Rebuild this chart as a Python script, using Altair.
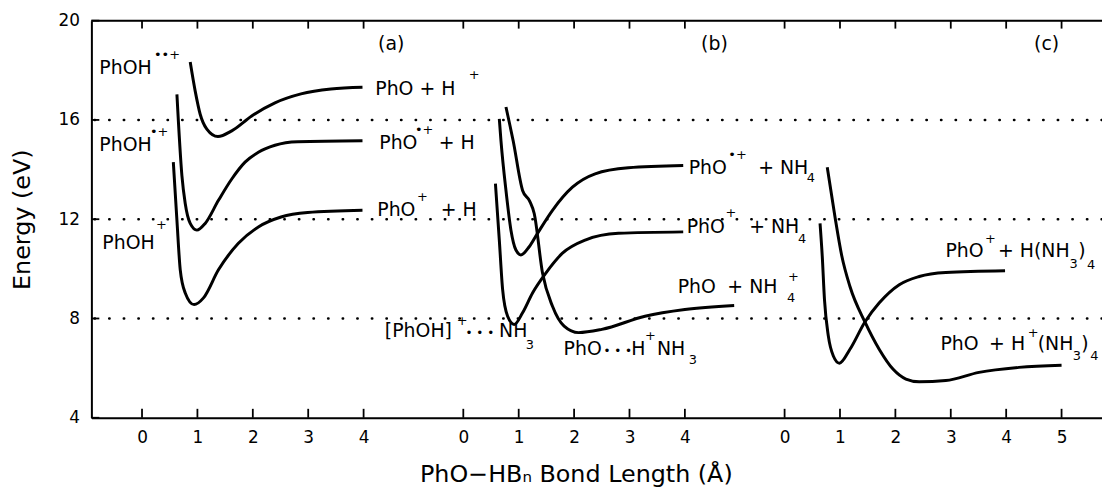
import altair as alt
import pandas as pd

FONT = "DejaVu Sans"

# ---- axis / layout data ----
panel_offset = {"a": 0.0, "b": 5.8, "c": 11.6}
a_ticks = [0, 1, 2, 3, 4]
b_ticks = [0, 1, 2, 3, 4]
c_ticks = [0, 1, 2, 3, 4, 5]
y_ticks = [4, 8, 12, 16, 20]
dotted_levels = [8, 12, 16]
x_domain = [-0.914, 17.33]
y_domain = [4, 20]

# ---- curves (local bond length in Angstrom, energy in eV) ----
# panel (a)
a1_x = [0.87, 0.96, 1.05, 1.17, 1.37, 1.62, 1.98, 2.40, 2.87, 3.41, 3.98]
a1_y = [18.33, 17.16, 16.23, 15.63, 15.33, 15.56, 16.16, 16.69, 17.05, 17.25, 17.32]
a2_x = [0.63, 0.72, 0.78, 0.87, 0.99, 1.14, 1.38, 1.62, 1.86, 2.10, 2.40, 2.81, 3.98]
a2_y = [17.03, 13.76, 12.63, 11.83, 11.56, 11.83, 12.76, 13.62, 14.30, 14.70, 14.98, 15.12, 15.16]
a3_x = [0.565, 0.63, 0.69, 0.78, 0.94, 1.11, 1.38, 1.74, 2.10, 2.51, 2.99, 3.98]
a3_y = [14.30, 11.96, 9.96, 9.03, 8.56, 8.83, 9.96, 11.03, 11.69, 12.09, 12.27, 12.36]
# panel (b)
bA_x = [0.65, 0.68, 0.77, 0.86, 0.95, 1.04, 1.19, 1.34, 1.61, 1.97, 2.38, 2.98, 3.97]
bA_y = [16.04, 15.16, 13.16, 11.56, 10.76, 10.56, 10.89, 11.43, 12.36, 13.29, 13.83, 14.07, 14.16]
bB_x = [0.77, 0.90, 1.07, 1.20, 1.28, 1.43, 1.61, 1.82, 2.08, 2.50, 3.28, 4.00, 4.89]
bB_y = [16.52, 15.16, 13.16, 12.72, 12.23, 9.83, 8.49, 7.69, 7.43, 7.56, 8.09, 8.36, 8.52]
bC_x = [0.58, 0.65, 0.71, 0.80, 0.92, 1.07, 1.25, 1.49, 1.79, 2.20, 2.80, 3.97]
bC_y = [13.43, 11.16, 9.16, 8.09, 7.76, 8.23, 9.03, 9.83, 10.63, 11.16, 11.43, 11.49]
# panel (c)
cA_x = [0.77, 0.91, 1.03, 1.18, 1.45, 1.71, 1.96, 2.19, 2.43, 2.91, 3.51, 4.23, 5.00]
cA_y = [14.09, 12.09, 10.55, 9.29, 7.86, 6.75, 5.95, 5.56, 5.45, 5.50, 5.83, 6.03, 6.12]
cB_x = [0.64, 0.68, 0.72, 0.79, 0.88, 0.99, 1.18, 1.45, 1.71, 2.07, 2.43, 2.91, 3.98]
cB_y = [11.83, 10.50, 8.76, 7.29, 6.49, 6.20, 6.76, 7.86, 8.63, 9.36, 9.69, 9.85, 9.92]

curves = [
    ("a1", "a", a1_x, a1_y), ("a2", "a", a2_x, a2_y), ("a3", "a", a3_x, a3_y),
    ("bA", "b", bA_x, bA_y), ("bB", "b", bB_x, bB_y), ("bC", "b", bC_x, bC_y),
    ("cA", "c", cA_x, cA_y), ("cB", "c", cB_x, cB_y),
]

# ---- text labels: panel, local x, y, text, font size ----
label_rows = [
    # panel (a)
    ("a", -0.771, 18.08, "PhOH", 19), ("a", 0.215, 18.6, "••+", 13),
    ("a", -0.771, 15.0, "PhOH", 19), ("a", 0.143, 15.52, "•+", 13),
    ("a", -0.717, 11.04, "PhOH", 19), ("a", 0.251, 11.76, "+", 13),
    ("a", 4.211, 17.24, "PhO  +  H", 19), ("a", 5.90, 17.8, "+", 13),
    ("a", 4.283, 15.08, "PhO", 19), ("a", 4.928, 15.6, "•+", 13), ("a", 5.358, 15.08, "+ H", 19),
    ("a", 4.247, 12.36, "PhO", 19), ("a", 4.964, 12.88, "+", 13), ("a", 5.394, 12.36, "+ H", 19),
    # panel (b)
    ("b", 4.068, 14.08, "PhO", 19), ("b", 4.785, 14.6, "•+", 13),
    ("b", 5.323, 14.08, "+ NH", 19), ("b", 6.20, 13.64, "4", 13),
    ("b", 4.032, 11.68, "PhO", 19), ("b", 4.731, 12.24, "+", 13),
    ("b", 5.161, 11.68, "+ NH", 19), ("b", 6.04, 11.2, "4", 13),
    ("b", 3.871, 9.28, "PhO", 19), ("b", 4.767, 9.28, "+  NH", 19),
    ("b", 5.86, 9.68, "+", 13), ("b", 5.842, 8.84, "4", 13),
    ("b", -1.416, 7.48, "[PhOH]", 19), ("b", -0.12, 7.88, "+", 13),
    ("b", 0.04, 7.40, "• • •", 12), ("b", 0.645, 7.48, "NH", 19), ("b", 1.129, 6.92, "3", 13),
    ("b", 1.81, 6.76, "PhO", 19), ("b", 2.53, 6.70, "• • •", 12),
    ("b", 3.03, 6.76, "H", 19), ("b", 3.28, 7.28, "+", 13),
    ("b", 3.495, 6.76, "NH", 19), ("b", 4.068, 6.32, "3", 13),
    # panel (c)
    ("c", 2.903, 10.72, "PhO", 19), ("c", 3.62, 11.2, "+", 13),
    ("c", 3.853, 10.72, "+  H(NH", 19), ("c", 5.143, 10.2, "3", 13),
    ("c", 5.30, 10.72, ")", 19), ("c", 5.46, 10.16, "4", 13),
    ("c", 2.814, 6.96, "PhO", 19), ("c", 3.692, 6.96, "+ H", 19), ("c", 4.39, 7.4, "+", 13),
    ("c", 4.57, 6.96, "(NH", 19), ("c", 5.20, 6.48, "3", 13),
    ("c", 5.355, 6.96, ")", 19), ("c", 5.52, 6.48, "4", 13),
]
label_panel = [r[0] for r in label_rows]
label_x = [r[1] for r in label_rows]
label_y = [r[2] for r in label_rows]
label_text = [r[3] for r in label_rows]
label_size = [r[4] for r in label_rows]

tag_panel = ["a", "b", "c"]
tag_x = [4.498, 4.534, 4.731]
tag_y = [19.04, 19.04, 19.04]
tag_text = ["(a)", "(b)", "(c)"]

# ---- build tables ----
rows = []
for name, panel, xs, ys in curves:
    for xv, yv in zip(xs, ys):
        rows.append({"curve": name, "x": xv, "gx": xv + panel_offset[panel], "y": yv})
curve_df = pd.DataFrame(rows)

labels_df = pd.DataFrame({"panel": label_panel, "x": label_x, "y": label_y,
                          "text": label_text, "fs": label_size})
labels_df["gx"] = labels_df["x"] + labels_df["panel"].map(panel_offset)

tags_df = pd.DataFrame({"panel": tag_panel, "x": tag_x, "y": tag_y, "text": tag_text})
tags_df["gx"] = tags_df["x"] + tags_df["panel"].map(panel_offset)

tick_pos = []
for panel, ticks in (("a", a_ticks), ("b", b_ticks), ("c", c_ticks)):
    tick_pos += [round(t + panel_offset[panel], 4) for t in ticks]
tick_df = pd.DataFrame({"gx": tick_pos})
ytick_df = pd.DataFrame({"y": y_ticks})
dotted_df = pd.DataFrame({"y": dotted_levels})
top_df = pd.DataFrame({"y": [y_domain[1]]})

off_b, off_c = panel_offset["b"], panel_offset["c"]
label_expr = (f"datum.value < {off_b - 0.5} ? format(datum.value, '.0f') : "
              f"datum.value < {off_c - 0.5} ? format(datum.value - {off_b}, '.0f') : "
              f"format(datum.value - {off_c}, '.0f')")

x_scale = alt.Scale(domain=x_domain, nice=False, zero=False)
y_scale = alt.Scale(domain=y_domain, nice=False, zero=False)

x_axis = alt.Axis(values=tick_pos, labelExpr=label_expr, title="PhO−HBₙ Bond Length (Å)",
                  titleFont=FONT, titleFontSize=24, titleFontWeight="normal", titleColor="black",
                  titleX=488, titleY=64, titleBaseline="alphabetic", titleAlign="center",
                  ticks=False, tickSize=0, labelFont=FONT, labelFontSize=17, labelColor="black",
                  labelPadding=12, labelFlush=False, labelOverlap=False,
                  domainColor="black", domainWidth=2, grid=False)
y_axis = alt.Axis(values=y_ticks, format="d", title="Energy (eV)",
                  titleFont=FONT, titleFontSize=24, titleFontWeight="normal", titleColor="black",
                  titleX=-62, titleY=200, titleAngle=270, titleBaseline="alphabetic", titleAlign="center",
                  ticks=False, tickSize=0, labelFont=FONT, labelFontSize=17, labelColor="black",
                  labelPadding=12, labelFlush=False, labelOverlap=False,
                  domainColor="black", domainWidth=2, grid=False)

lines = alt.Chart(curve_df).mark_line(color="black", strokeWidth=3, interpolate="monotone").encode(
    x=alt.X("gx:Q", scale=x_scale, axis=x_axis),
    y=alt.Y("y:Q", scale=y_scale, axis=y_axis),
    detail="curve:N",
    order="x:Q",
)

dotted = alt.Chart(dotted_df).mark_rule(color="black", strokeWidth=2.4, strokeDash=[0.5, 14.2],
                                        strokeCap="round").encode(y="y:Q")
top_line = alt.Chart(top_df).mark_rule(color="black", strokeWidth=2).encode(y="y:Q")
ticks_bottom = alt.Chart(tick_df).mark_rule(color="black", strokeWidth=1.8).encode(
    x="gx:Q", y=alt.value(400), y2=alt.value(391))
ticks_top = alt.Chart(tick_df).mark_rule(color="black", strokeWidth=1.8).encode(
    x="gx:Q", y=alt.value(0), y2=alt.value(8))
ticks_left = alt.Chart(ytick_df).mark_rule(color="black", strokeWidth=1.8).encode(
    y="y:Q", x=alt.value(0), x2=alt.value(8))

labels = alt.Chart(labels_df).mark_text(align="left", baseline="middle", font=FONT, color="black").encode(
    x="gx:Q", y="y:Q", text="text:N", size=alt.Size("fs:Q", scale=None, legend=None))
tags = alt.Chart(tags_df).mark_text(align="center", baseline="middle", font=FONT, fontSize=19,
                                    color="black").encode(x="gx:Q", y="y:Q", text="text:N")

chart = alt.layer(dotted, top_line, ticks_bottom, ticks_top, ticks_left, lines, labels, tags).properties(
    width=1018, height=400,
    padding={"left": 84, "top": 11, "right": 0, "bottom": 69},
    autosize=alt.AutoSizeParams(type="none"),
).configure_view(stroke=None).configure(background="white")

chart.save("out.html", embed_options={"renderer": "svg", "actions": False})
